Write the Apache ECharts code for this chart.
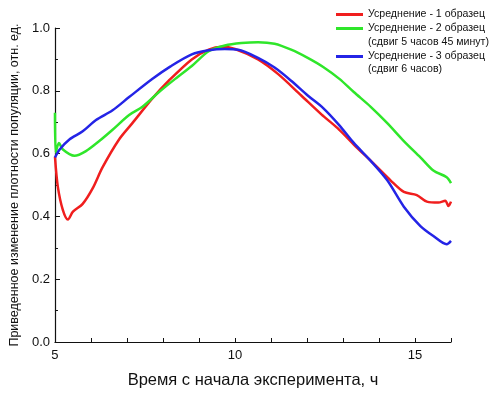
<!DOCTYPE html>
<html><head><meta charset="utf-8">
<script src="https://cdn.jsdelivr.net/npm/echarts@6/dist/echarts.min.js"></script>
<style>html,body{margin:0;padding:0;background:#fff}#c{width:489px;height:394px}</style>
</head><body><div id="c"></div>
<script>
const seriesNames = ['Усреднение - 1 образец', 'Усреднение - 2 образец', 'Усреднение - 3 образец'];
const legendSubtitles = ['', '(сдвиг 5 часов 45 минут)', '(сдвиг 6 часов)'];
const xAxisTitle = 'Время с начала эксперимента, ч';
const yAxisTitle = 'Приведенное изменение плотности популяции, отн. ед.';

const redT = [5.0, 5.08, 5.22, 5.36, 5.5, 5.77, 6.05, 6.32, 6.78, 7.15, 7.7, 8.16, 8.8, 9.27, 9.63, 10.0, 10.64, 11.2, 11.84, 12.4, 12.85, 13.3, 13.86, 14.32, 14.69, 15.05, 15.33, 15.65, 15.84, 15.93, 16.0];
const redV = [0.59, 0.494, 0.42, 0.39, 0.415, 0.44, 0.49, 0.556, 0.645, 0.697, 0.775, 0.832, 0.9, 0.931, 0.94, 0.933, 0.9, 0.853, 0.785, 0.725, 0.681, 0.629, 0.567, 0.515, 0.478, 0.468, 0.447, 0.444, 0.45, 0.433, 0.447];

const greenT = [5.0, 5.02, 5.11, 5.22, 5.54, 5.86, 6.23, 6.6, 7.06, 7.43, 7.89, 8.34, 8.8, 9.27, 9.72, 10.18, 10.64, 11.1, 11.56, 12.02, 12.45, 12.9, 13.3, 13.77, 14.23, 14.69, 15.15, 15.51, 15.88, 16.0];
const greenV = [0.73, 0.603, 0.634, 0.613, 0.593, 0.608, 0.64, 0.676, 0.723, 0.749, 0.796, 0.838, 0.879, 0.926, 0.944, 0.952, 0.955, 0.95, 0.931, 0.905, 0.876, 0.838, 0.796, 0.749, 0.697, 0.64, 0.588, 0.546, 0.525, 0.506];

const blueT = [5.0, 5.13, 5.4, 5.77, 6.14, 6.6, 7.06, 7.7, 8.2, 8.8, 9.27, 9.72, 10.09, 10.64, 11.1, 11.56, 12.02, 12.45, 12.9, 13.3, 13.77, 14.23, 14.69, 15.15, 15.51, 15.88, 16.0];
const blueV = [0.5875, 0.613, 0.645, 0.671, 0.707, 0.738, 0.78, 0.8375, 0.877, 0.916, 0.929, 0.933, 0.931, 0.905, 0.874, 0.832, 0.785, 0.745, 0.69, 0.634, 0.577, 0.515, 0.431, 0.369, 0.3375, 0.3115, 0.322];

const colors = ['#f01e1e', '#2fe62a', '#2424e6'];
const FONT = 'Liberation Sans, Arial, sans-serif';

function pairs(t, v) { return t.map((x, i) => [x, v[i]]); }
const seriesData = [pairs(redT, redV), pairs(greenT, greenV), pairs(blueT, blueV)];

const chart = echarts.init(document.getElementById('c'));
const legendTops = [9, 23, 51];
const option = {
  animation: false,
  grid: { left: 52, right: 38, top: 28, bottom: 46 },
  legend: seriesNames.map((n, i) => ({
    data: [n], left: 336, top: legendTops[i], padding: 0,
    icon: 'rect', itemWidth: 27, itemHeight: 3,
    textStyle: { fontSize: 10.6, color: '#111', fontFamily: FONT },
    selectedMode: false
  })),
  graphic: [
    { type: 'text', left: 368, top: 37, style: { text: legendSubtitles[1], fontSize: 10.6, fill: '#111', fontFamily: FONT } },
    { type: 'text', left: 368, top: 64, style: { text: legendSubtitles[2], fontSize: 10.6, fill: '#111', fontFamily: FONT } }
  ],
  xAxis: {
    type: 'value', min: 5, max: 16, interval: 1,
    name: xAxisTitle, nameLocation: 'middle', nameGap: 30,
    nameTextStyle: { fontSize: 16.5, color: '#111', fontFamily: FONT },
    axisLine: { lineStyle: { color: '#111', width: 1.2 } },
    axisTick: { inside: true, length: 4, lineStyle: { color: '#111' } },
    axisLabel: { fontSize: 13, color: '#111', fontFamily: FONT, margin: 7,
      formatter: v => (v % 5 === 0 ? String(v) : '') },
    splitLine: { show: false }
  },
  yAxis: {
    type: 'value', min: 0, max: 1, interval: 0.2,
    name: yAxisTitle, nameLocation: 'middle', nameGap: 29, nameRotate: 90,
    nameTextStyle: { fontSize: 12.5, color: '#111', fontFamily: FONT },
    axisLine: { show: true, lineStyle: { color: '#111', width: 1.2 } },
    axisTick: { show: true, inside: true, length: 5, lineStyle: { color: '#111' } },
    minorTick: { show: true, splitNumber: 2, length: 3, lineStyle: { color: '#111' } },
    axisLabel: { fontSize: 13, color: '#111', fontFamily: FONT, margin: 5,
      formatter: v => v.toFixed(1) },
    splitLine: { show: false }
  },
  series: seriesNames.map((n, i) => ({
    name: n, type: 'line', data: seriesData[i], smooth: 0.3,
    showSymbol: false, symbol: 'none',
    lineStyle: { color: colors[i], width: 2.5 }, itemStyle: { color: colors[i] }
  }))
};
chart.setOption(option);
</script></body></html>
